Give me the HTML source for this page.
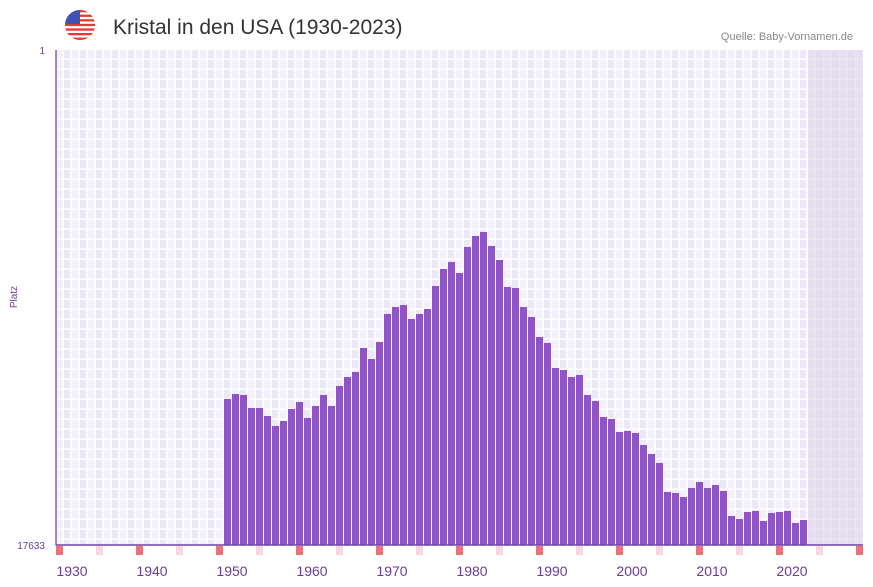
<!DOCTYPE html>
<html><head><meta charset="utf-8"><style>
body{margin:0;background:#fff;width:873px;height:587px;overflow:hidden}
svg{display:block;font-family:"Liberation Sans",sans-serif}
</style></head><body>
<svg width="873" height="587" xmlns="http://www.w3.org/2000/svg">
<defs>
<pattern id="g" x="56" y="50" width="16" height="10" patternUnits="userSpaceOnUse">
<rect width="8" height="10" fill="#f3effc"/><rect x="8" width="8" height="10" fill="#ede8f8"/>
<rect x="6.5" width="1.5" height="10" fill="#fff"/><rect x="14.5" width="1.5" height="10" fill="#fff"/>
<rect y="8.5" width="16" height="1.5" fill="#fff"/>
</pattern>
<clipPath id="fc"><circle cx="80" cy="25" r="15"/></clipPath>
</defs>
<rect x="56" y="50" width="807" height="495" fill="url(#g)"/>
<rect x="808" y="50" width="55" height="495" fill="#d8d2e4" opacity="0.55"/>
<!-- flag -->
<g clip-path="url(#fc)">
<rect x="65" y="10" width="30" height="30" fill="#fff"/>
<g fill="#e53935"><rect x="65" y="10" width="30" height="2.3"/><rect x="65" y="14.6" width="30" height="2.3"/><rect x="65" y="19.2" width="30" height="2.3"/><rect x="65" y="23.8" width="30" height="2.3"/><rect x="65" y="28.4" width="30" height="2.3"/><rect x="65" y="33" width="30" height="2.3"/><rect x="65" y="37.6" width="30" height="2.4"/></g>
<rect x="65" y="10" width="15" height="14" fill="#3f51b5"/>
</g>
<text x="113" y="34" font-size="21" fill="#333">Kristal in den USA (1930-2023)</text>
<text x="853" y="40" font-size="11" fill="#888" text-anchor="end">Quelle: Baby-Vornamen.de</text>
<text x="45" y="54" font-size="10" fill="#6a3d9a" text-anchor="end">1</text>
<text x="45" y="549" font-size="10" fill="#6a3d9a" text-anchor="end">17633</text>
<text transform="translate(17,297) rotate(-90)" font-size="10" fill="#6a3d9a" text-anchor="middle">Platz</text>
<g fill="#8e54c8" id="bars"></g>
<g fill="#e8737b"><rect x="56" y="546" width="7" height="9"/><rect x="136" y="546" width="7" height="9"/><rect x="216" y="546" width="7" height="9"/><rect x="296" y="546" width="7" height="9"/><rect x="376" y="546" width="7" height="9"/><rect x="456" y="546" width="7" height="9"/><rect x="536" y="546" width="7" height="9"/><rect x="616" y="546" width="7" height="9"/><rect x="696" y="546" width="7" height="9"/><rect x="776" y="546" width="7" height="9"/><rect x="856" y="546" width="7" height="9"/></g>
<g fill="#f7d7e0"><rect x="96" y="546" width="7" height="9"/><rect x="176" y="546" width="7" height="9"/><rect x="256" y="546" width="7" height="9"/><rect x="336" y="546" width="7" height="9"/><rect x="416" y="546" width="7" height="9"/><rect x="496" y="546" width="7" height="9"/><rect x="576" y="546" width="7" height="9"/><rect x="656" y="546" width="7" height="9"/><rect x="736" y="546" width="7" height="9"/><rect x="816" y="546" width="7" height="9"/></g>
<line x1="56" y1="50" x2="56" y2="545.5" stroke="#6a3d9a" stroke-width="1.2"/>
<line x1="56" y1="545" x2="863" y2="545" stroke="#6a3d9a" stroke-width="1.2"/>
<g font-size="14" fill="#6a3d9a" text-anchor="middle">
<text x="72" y="576">1930</text><text x="152" y="576">1940</text><text x="232" y="576">1950</text><text x="312" y="576">1960</text><text x="392" y="576">1970</text><text x="472" y="576">1980</text><text x="552" y="576">1990</text><text x="632" y="576">2000</text><text x="712" y="576">2010</text><text x="792" y="576">2020</text>
</g>
<g fill="#8e54c8">
<rect x="224" y="399" width="7" height="146"/><rect x="232" y="394" width="7" height="151"/><rect x="240" y="395" width="7" height="150"/><rect x="248" y="408" width="7" height="137"/><rect x="256" y="408" width="7" height="137"/><rect x="264" y="416" width="7" height="129"/><rect x="272" y="426" width="7" height="119"/><rect x="280" y="421" width="7" height="124"/><rect x="288" y="409" width="7" height="136"/><rect x="296" y="402" width="7" height="143"/>
<rect x="304" y="418" width="7" height="127"/><rect x="312" y="406" width="7" height="139"/><rect x="320" y="395" width="7" height="150"/><rect x="328" y="406" width="7" height="139"/><rect x="336" y="386" width="7" height="159"/><rect x="344" y="377" width="7" height="168"/><rect x="352" y="372" width="7" height="173"/><rect x="360" y="348" width="7" height="197"/><rect x="368" y="359" width="7" height="186"/><rect x="376" y="342" width="7" height="203"/>
<rect x="384" y="314" width="7" height="231"/><rect x="392" y="307" width="7" height="238"/><rect x="400" y="305" width="7" height="240"/><rect x="408" y="319" width="7" height="226"/><rect x="416" y="314" width="7" height="231"/><rect x="424" y="309" width="7" height="236"/><rect x="432" y="286" width="7" height="259"/><rect x="440" y="269" width="7" height="276"/><rect x="448" y="262" width="7" height="283"/><rect x="456" y="273" width="7" height="272"/>
<rect x="464" y="247" width="7" height="298"/><rect x="472" y="236" width="7" height="309"/><rect x="480" y="232" width="7" height="313"/><rect x="488" y="246" width="7" height="299"/><rect x="496" y="260" width="7" height="285"/><rect x="504" y="287" width="7" height="258"/><rect x="512" y="288" width="7" height="257"/><rect x="520" y="307" width="7" height="238"/><rect x="528" y="317" width="7" height="228"/><rect x="536" y="337" width="7" height="208"/>
<rect x="544" y="343" width="7" height="202"/><rect x="552" y="368" width="7" height="177"/><rect x="560" y="370" width="7" height="175"/><rect x="568" y="377" width="7" height="168"/><rect x="576" y="375" width="7" height="170"/><rect x="584" y="395" width="7" height="150"/><rect x="592" y="401" width="7" height="144"/><rect x="600" y="417" width="7" height="128"/><rect x="608" y="419" width="7" height="126"/><rect x="616" y="432" width="7" height="113"/>
<rect x="624" y="431" width="7" height="114"/><rect x="632" y="433" width="7" height="112"/><rect x="640" y="445" width="7" height="100"/><rect x="648" y="454" width="7" height="91"/><rect x="656" y="463" width="7" height="82"/><rect x="664" y="492" width="7" height="53"/><rect x="672" y="493" width="7" height="52"/><rect x="680" y="497" width="7" height="48"/><rect x="688" y="488" width="7" height="57"/><rect x="696" y="482" width="7" height="63"/>
<rect x="704" y="488" width="7" height="57"/><rect x="712" y="485" width="7" height="60"/><rect x="720" y="491" width="7" height="54"/><rect x="728" y="516" width="7" height="29"/><rect x="736" y="519" width="7" height="26"/><rect x="744" y="512" width="7" height="33"/><rect x="752" y="511" width="7" height="34"/><rect x="760" y="521" width="7" height="24"/><rect x="768" y="513" width="7" height="32"/><rect x="776" y="512" width="7" height="33"/>
<rect x="784" y="511" width="7" height="34"/><rect x="792" y="523" width="7" height="22"/><rect x="800" y="520" width="7" height="25"/>
</g>
<line x1="56" y1="545" x2="863" y2="545" stroke="#6a3d9a" stroke-width="1.2"/>
</svg>
</body></html>
